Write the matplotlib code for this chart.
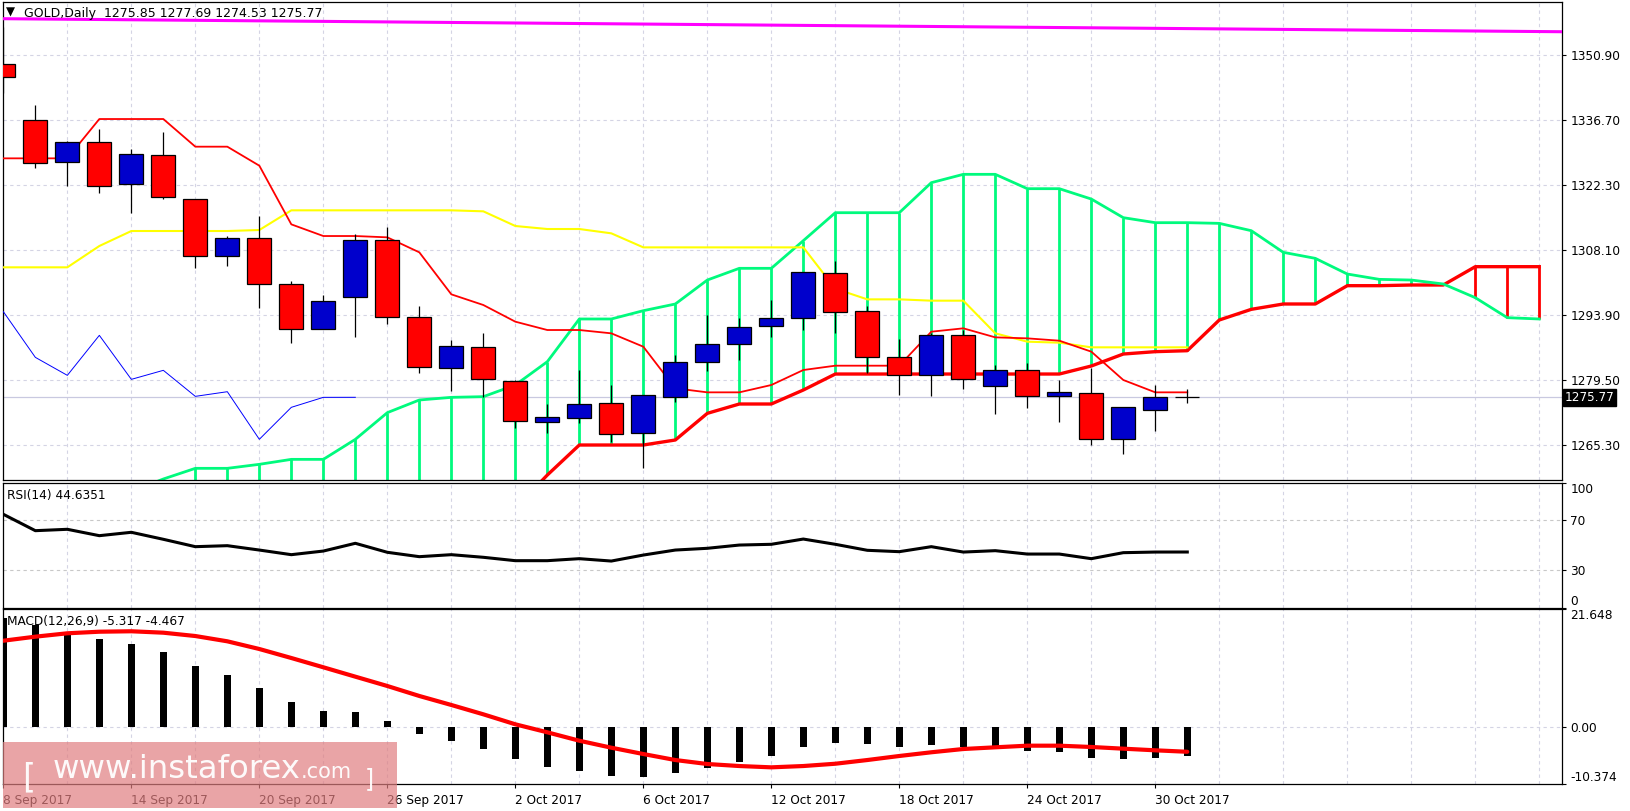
import numpy as np
import matplotlib.pyplot as plt
from matplotlib.patches import Rectangle

# ---------------- values ----------------
date_labels = ['8 Sep 2017', '14 Sep 2017', '20 Sep 2017', '26 Sep 2017', '2 Oct 2017',
               '6 Oct 2017', '12 Oct 2017', '18 Oct 2017', '24 Oct 2017', '30 Oct 2017']
label_step = 4  # one date label every 4 bars

open_ = [1348.85, 1336.56, 1327.34, 1331.73, 1322.51, 1328.88, 1319.22, 1306.71, 1310.66, 1300.57,
         1290.69, 1297.71, 1310.22, 1293.32, 1282.13, 1286.74, 1279.27, 1270.28, 1271.15, 1274.45,
         1267.86, 1275.76, 1283.44, 1287.40, 1291.35, 1293.10, 1302.98, 1294.64, 1284.54, 1280.59,
         1289.37, 1278.18, 1281.69, 1276.13, 1276.79, 1266.55, 1272.91, 1275.85]
high = [1357.12, 1339.93, 1332.00, 1334.66, 1330.27, 1333.93, 1319.37, 1311.10, 1315.49, 1301.30,
        1298.22, 1311.54, 1313.15, 1295.81, 1288.35, 1289.96, 1279.57, 1274.30, 1281.76, 1278.47,
        1276.20, 1284.98, 1293.83, 1293.10, 1297.13, 1303.20, 1305.69, 1295.81, 1288.49, 1289.81,
        1290.54, 1282.86, 1283.23, 1279.57, 1282.13, 1273.57, 1278.47, 1277.69]
low = [1342.49, 1326.17, 1322.20, 1320.54, 1316.30, 1319.30, 1304.22, 1304.66, 1295.44, 1287.62,
       1290.69, 1289.08, 1291.79, 1281.03, 1277.23, 1275.76, 1269.10, 1267.86, 1270.06, 1265.90,
       1260.20, 1274.80, 1281.62, 1283.96, 1289.08, 1290.54, 1289.96, 1281.03, 1276.27, 1276.13,
       1277.52, 1272.03, 1273.35, 1270.43, 1265.23, 1263.25, 1268.45, 1274.53]
close = [1346.14, 1327.12, 1331.73, 1322.07, 1329.10, 1319.66, 1306.86, 1310.66, 1300.57, 1290.69,
         1296.83, 1310.22, 1293.32, 1282.35, 1286.96, 1279.71, 1270.50, 1271.37, 1274.23, 1267.64,
         1276.20, 1283.44, 1287.40, 1291.13, 1293.10, 1303.20, 1294.57, 1284.54, 1280.59, 1289.37,
         1279.71, 1281.69, 1275.98, 1277.00, 1266.55, 1273.57, 1275.76, 1275.77]

tenkan = [1328.22, 1328.22, 1328.22, 1336.85, 1336.85, 1336.85, 1330.78, 1330.78, 1326.61, 1313.73,
          1311.17, 1311.17, 1310.88, 1307.59, 1298.37, 1296.03, 1292.37, 1290.54, 1290.54, 1289.81,
          1286.88, 1277.74, 1276.86, 1276.86, 1278.47, 1281.76, 1282.71, 1282.71, 1282.71, 1290.17,
          1290.91, 1288.93, 1288.71, 1288.20, 1285.79, 1279.57, 1276.86, 1276.86]
kijun = [1304.30, 1304.30, 1304.30, 1308.98, 1312.27, 1312.27, 1312.27, 1312.27, 1312.49, 1316.81,
         1316.81, 1316.81, 1316.81, 1316.81, 1316.81, 1316.59, 1313.37, 1312.71, 1312.71, 1311.76,
         1308.68, 1308.68, 1308.68, 1308.68, 1308.68, 1308.68, 1299.61, 1297.27, 1297.27, 1296.98,
         1296.98, 1289.81, 1287.98, 1287.76, 1286.74, 1286.74, 1286.74, 1286.74]

span_a_start = 4
span_a = [1255.06, 1257.84, 1260.18, 1260.18, 1261.06, 1262.15, 1262.15, 1266.54, 1272.40, 1275.18,
          1275.76, 1275.91, 1278.47, 1283.59, 1292.96, 1292.96, 1294.78, 1296.25, 1301.51, 1304.08,
          1304.08, 1310.15, 1316.29, 1316.29, 1316.29, 1322.88, 1324.71, 1324.71, 1321.56, 1321.56,
          1319.29, 1315.20, 1314.10, 1314.10, 1313.95, 1312.34, 1307.59, 1306.27, 1302.83, 1301.66,
          1301.51, 1300.64, 1297.64, 1293.25, 1292.96]
span_b_start = 5
span_b = [1248.0, 1248.0, 1248.0, 1248.0, 1248.0, 1248.0, 1248.0, 1248.0, 1248.0, 1248.0,
          1248.0, 1251.40, 1258.71, 1265.30, 1265.30, 1265.30, 1266.40, 1272.25, 1274.30, 1274.30,
          1277.37, 1280.88, 1280.88, 1280.88, 1280.88, 1280.88, 1280.88, 1280.88, 1280.88, 1282.64,
          1285.27, 1285.79, 1286.00, 1292.74, 1295.08, 1296.25, 1296.25, 1300.27, 1300.27, 1300.42,
          1300.42, 1304.44, 1304.44, 1304.44]
chikou_shift = 26

trend_line = [1358.87, 1356.01]  # value at left and right edge

rsi = [74.8, 61.7, 62.8, 57.7, 60.4, 54.8, 48.9, 49.7, 46.2, 42.5,
       45.4, 51.6, 44.4, 40.9, 42.5, 40.4, 37.7, 37.7, 39.3, 37.4,
       42.2, 46.2, 47.6, 50.2, 50.8, 55.0, 50.8, 46.0, 44.9, 48.9,
       44.6, 45.7, 43.0, 43.0, 39.3, 44.1, 44.6, 44.6351]
macd_hist = [20.0, 18.77, 17.12, 16.20, 15.29, 13.82, 11.25, 9.60, 7.22, 4.65,
             3.0, 2.82, 1.17, -1.21, -2.49, -3.96, -5.79, -7.20, -7.99, -8.91,
             -9.09, -8.36, -7.38, -6.34, -5.24, -3.59, -2.86, -3.04, -3.59, -3.22,
             -3.59, -3.41, -4.27, -4.46, -5.56, -5.74, -5.56, -5.317]
macd_signal = [15.89, 16.63, 17.25, 17.54, 17.62, 17.36, 16.75, 15.78, 14.37, 12.72,
               11.02, 9.30, 7.59, 5.76, 4.11, 2.40, 0.57, -0.90, -2.44, -3.72,
               -4.88, -5.98, -6.71, -7.08, -7.32, -7.08, -6.66, -5.98, -5.24, -4.56,
               -3.96, -3.65, -3.35, -3.35, -3.59, -3.90, -4.20, -4.467]

price_labels = ['1350.90', '1336.70', '1322.30', '1308.10', '1293.90', '1279.50', '1265.30']
macd_labels = ['21.648', '0.00', '-10.374']

# ---------------- layout ----------------
W, H = 1630, 811
fig = plt.figure(figsize=(W / 100, H / 100), dpi=100)
fig.patch.set_facecolor('white')
FS = 8.7
GRID = '#D4D4E4'
DASH = (0, (3, 3))


def pane(left, top, right, bottom):
    return fig.add_axes([left / W, 1 - bottom / H, (right - left) / W, (bottom - top) / H])


ax = pane(2.7, 2.3, 1562, 480)
ax_rsi = pane(2.7, 482.8, 1562, 607.8)
ax_macd = pane(2.7, 609.3, 1562, 784)

xmax = 48.71
for a in (ax, ax_rsi, ax_macd):
    a.set_xlim(-0.02, xmax)
    for s in a.spines.values():
        s.set_color('black')
        s.set_linewidth(0.9)
    for gx in range(2, 49, 2):
        a.axvline(gx, color=GRID, lw=0.8, ls=DASH, zorder=0)
    a.tick_params(axis='x', bottom=False, labelbottom=False)
    a.tick_params(axis='y', left=False, labelleft=False, right=True, labelright=True,
                  direction='out', length=3, width=0.8, pad=3, labelsize=FS)

n = len(close)
x = np.arange(n)

# ---------------- main pane ----------------
ax.set_ylim(1257.62, 1362.47)
grid_vals = np.linspace(float(price_labels[0]), float(price_labels[-1]), len(price_labels))
for gy in grid_vals:
    ax.axhline(gy, color=GRID, lw=0.8, ls=DASH, zorder=0)
ax.set_yticks(grid_vals)
ax.set_yticklabels(price_labels)

last = close[-1]
ax.axhline(last, color='#C9C9E0', lw=0.9, zorder=0.5)

# cloud hatching
for i in range(span_b_start, span_a_start + len(span_a)):
    a_val = span_a[i - span_a_start]
    b_val = span_b[i - span_b_start]
    col = '#00FA7D' if a_val >= b_val else '#FF0000'
    ax.vlines(i, min(a_val, b_val), max(a_val, b_val), color=col, lw=2.0, zorder=1)

ax.plot(np.arange(span_b_start, span_b_start + len(span_b)), span_b, color='#FF0000', lw=2.4, zorder=2)
ax.plot(np.arange(span_a_start, span_a_start + len(span_a)), span_a, color='#00FA7D', lw=2.0, zorder=2)

ax.plot(x, kijun, color='#FFFF00', lw=1.5, zorder=3)
ax.plot(x, tenkan, color='#FF0000', lw=1.3, zorder=3)
ax.plot(x[:n - chikou_shift], close[chikou_shift:], color='#0000FF', lw=0.7, zorder=3)
ax.plot([-0.02, xmax], trend_line, color='#FF00FF', lw=2.2, zorder=3)

# candles
o = np.array(open_)
c = np.array(close)
colors = np.where(c >= o, '#0000CC', '#FF0000')
ax.vlines(x, low, high, color='black', lw=0.9, zorder=4)
ax.bar(x, c - o, bottom=o, width=0.76, color=colors, edgecolor='black', linewidth=0.9, zorder=5)

ax.text(1.0015, last, f'{last:.2f}', transform=ax.get_yaxis_transform(), color='white',
        fontsize=FS, va='center', ha='left', zorder=10, clip_on=False,
        bbox=dict(boxstyle='square,pad=0.15', facecolor='black', edgecolor='black'))

fig.text(6 / W, 1 - 12.5 / H, '\u25BC', fontsize=8.5, va='center', ha='left')
fig.text(24 / W, 1 - 13.5 / H,
         f'GOLD,Daily  {open_[-1]:.2f} {high[-1]:.2f} {low[-1]:.2f} {close[-1]:.2f}',
         fontsize=9, va='center', ha='left')

# ---------------- RSI pane ----------------
ax_rsi.set_ylim(0, 100)
for gy in (70, 30):
    ax_rsi.axhline(gy, color='#C8C8C8', lw=0.8, ls=DASH, zorder=0)
ax_rsi.plot(x, rsi, color='black', lw=2.2, zorder=3)
ax_rsi.set_yticks([100, 70, 30, 0])
ax_rsi.set_yticklabels(['100', '70', '30', '0'])
tl = ax_rsi.get_yticklabels()
tl[0].set_va('top')
tl[-1].set_va('bottom')
fig.text(7 / W, 1 - 495 / H, f'RSI(14) {rsi[-1]:.4f}', fontsize=FS, va='center', ha='left')

# ---------------- MACD pane ----------------
macd_top, macd_bot = float(macd_labels[0]), float(macd_labels[-1])
ax_macd.set_ylim(macd_bot, macd_top)
ax_macd.axhline(0, color=GRID, lw=0.8, ls=DASH, zorder=0)
ax_macd.bar(x, macd_hist, width=0.21, color='black', zorder=2)
ax_macd.plot(x, macd_signal, color='#FF0000', lw=3.0, zorder=3, solid_capstyle='round')
ax_macd.set_yticks([macd_top, 0, macd_bot])
ax_macd.set_yticklabels(macd_labels)
tl = ax_macd.get_yticklabels()
tl[0].set_va('top')
tl[-1].set_va('bottom')
fig.text(7 / W, 1 - 622 / H, f'MACD(12,26,9) {macd_hist[-1]:.3f} {macd_signal[-1]:.3f}',
         fontsize=FS, va='center', ha='left')

ax_macd.set_xticks(np.arange(len(date_labels)) * label_step)
ax_macd.set_xticklabels(date_labels, ha='left')
ax_macd.tick_params(axis='x', bottom=True, labelbottom=True, direction='out', length=3,
                    width=0.8, pad=4, labelsize=FS)

# ---------------- watermark ----------------
fig.patches.append(Rectangle((3 / W, 1 - 808 / H), 394 / W, 66 / H, transform=fig.transFigure,
                             facecolor='#E07E80', edgecolor='none', alpha=0.7, zorder=10))
wm = dict(color='white', alpha=0.95, va='baseline', ha='left', zorder=11)
fig.text(22 / W, 1 - 787 / H, '[', fontsize=24, **wm)
t_www = fig.text(53 / W, 1 - 778 / H, 'www.instaforex', fontsize=23.3, **wm)
renderer = fig.canvas.get_renderer()
x_end = t_www.get_window_extent(renderer).x1
fig.text(x_end / W, 1 - 778 / H, '.com', fontsize=15, **wm)
fig.text(365 / W, 1 - 786 / H, ']', fontsize=17, **wm)

fig.savefig('out.png', dpi=100)
